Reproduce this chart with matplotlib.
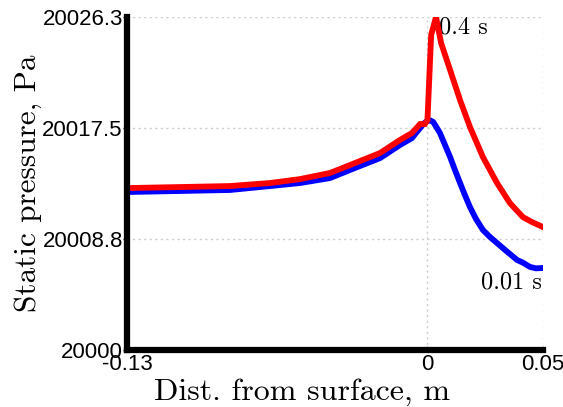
import matplotlib
matplotlib.use("Agg")
import matplotlib.pyplot as plt

# Data (distance from surface in m, static pressure in Pa)
x_blue = [-0.13, -0.1071, -0.0854, -0.0681, -0.0551, -0.0422, -0.0335, -0.0205,
          -0.0119, -0.0067, -0.0032, -0.0015, 0.0, 0.0011, 0.0025, 0.0054, 0.0076,
          0.0098, 0.0119, 0.0141, 0.0162, 0.0184, 0.0210, 0.0240, 0.0271, 0.0301,
          0.0336, 0.0388, 0.0413, 0.0444, 0.0470, 0.05]
p_blue = [20012.48, 20012.56, 20012.64, 20012.95, 20013.19, 20013.58, 20014.22,
          20015.16, 20016.19, 20016.74, 20017.53, 20017.90, 20018.12, 20018.14,
          20018.01, 20017.14, 20016.19, 20015.24, 20014.22, 20013.19, 20012.24,
          20011.29, 20010.35, 20009.48, 20008.92, 20008.45, 20007.90, 20007.11,
          20006.90, 20006.56, 20006.45, 20006.48]

x_red = [-0.13, -0.1071, -0.0854, -0.0681, -0.0551, -0.0422, -0.0335, -0.0205,
         -0.0119, -0.0067, -0.0032, -0.0011, 0.0, 0.0016, 0.0037, 0.0059, 0.0098,
         0.0141, 0.0184, 0.0240, 0.0301, 0.0357, 0.0413, 0.0452, 0.05]
p_red = [20012.79, 20012.87, 20012.95, 20013.19, 20013.50, 20013.98, 20014.61,
         20015.56, 20016.59, 20017.14, 20017.85, 20017.85, 20018.16, 20024.88,
         20026.30, 20024.25, 20022.11, 20019.74, 20017.61, 20015.24, 20013.19,
         20011.60, 20010.50, 20010.11, 20009.71]

xticks = [-0.13, 0, 0.05]
xtick_labels = ["-0.13", "0", "0.05"]
yticks = [20000, 20008.8, 20017.5, 20026.3]
ytick_labels = ["20000", "20008.8", "20017.5", "20026.3"]

fig = plt.figure(figsize=(5.63, 4.07), dpi=100)
ax = fig.add_axes([0.2256, 0.14, 0.7389, 0.8182])

ax.plot(x_blue, p_blue, color="#0000ff", lw=4.2, solid_joinstyle="round", zorder=3)
ax.plot(x_red, p_red, color="#ff0000", lw=4.2, solid_joinstyle="miter", zorder=4)

ax.set_xlim(-0.13, 0.05)
ax.set_ylim(20000, 20026.3)

ax.set_xticks(xticks)
ax.set_xticklabels(xtick_labels, family="Liberation Sans", fontsize=16)
ax.set_yticks(yticks)
ax.set_yticklabels(ytick_labels, family="Liberation Sans", fontsize=16)
ax.tick_params(axis="y", length=3, width=1, color="black", pad=0, direction="out")
ax.tick_params(axis="x", length=3, width=1, color="#999999", pad=3, direction="in")

ax.grid(True, color="#cccccc", linestyle=(0, (1.5, 2.5)), linewidth=1.0)
ax.set_axisbelow(True)

for s in ["top", "right"]:
    ax.spines[s].set_visible(False)
for s in ["left", "bottom"]:
    ax.spines[s].set_linewidth(4.5)
    ax.spines[s].set_color("black")
    ax.spines[s].set_zorder(5)

ax.set_xlabel("Dist. from surface, m", family="cmr10", fontsize=23, labelpad=2)
ax.xaxis.set_label_coords(0.42, -0.085)
ax.set_ylabel("Static pressure, Pa", family="cmr10", fontsize=22.5, labelpad=0)

ax.text(0.0048, 20025.5, "0.4 s", family="cmr10", fontsize=17.5, ha="left", va="center")
ax.text(0.0497, 20005.3, "0.01 s", family="cmr10", fontsize=17.5, ha="right", va="center")

fig.savefig("out.png", dpi=100)
